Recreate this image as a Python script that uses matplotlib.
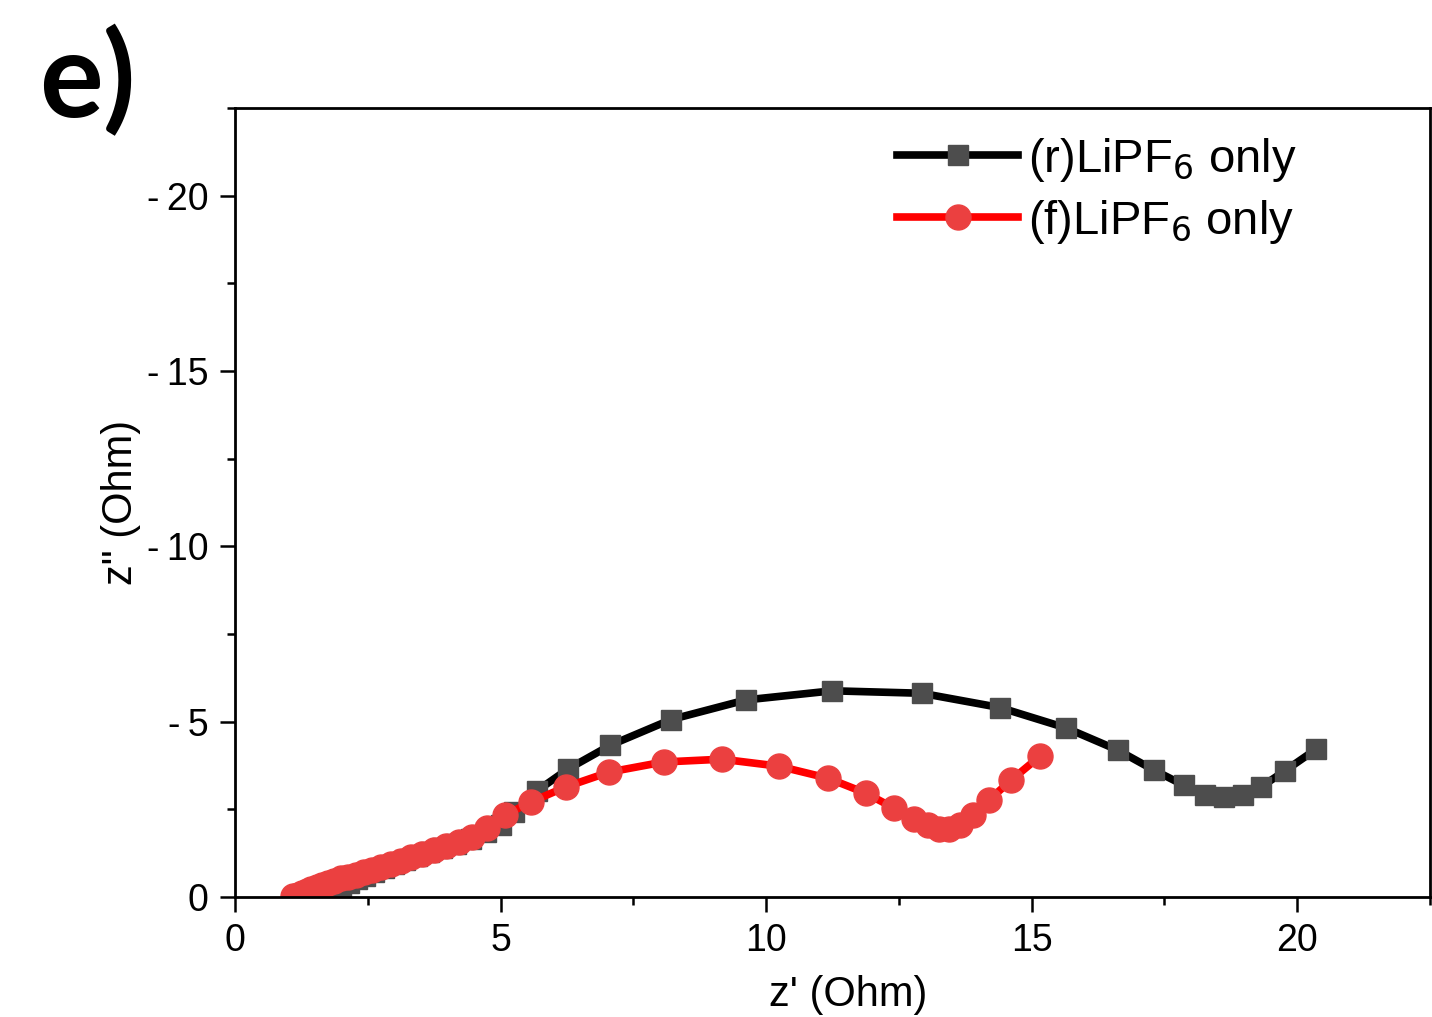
import numpy as np
import matplotlib.pyplot as plt
from matplotlib.ticker import FuncFormatter

plt.rcParams['font.family'] = ['Liberation Sans', 'DejaVu Sans']
plt.rcParams['axes.unicode_minus'] = False

# (r)LiPF6 only  -- Z' and Z'' (Ohm)
zr_re = [1.55, 1.65, 1.76, 1.88, 2.00, 2.14, 2.29, 2.45, 2.62, 2.80, 3.00, 3.20,
         3.42, 3.65, 3.90, 4.16, 4.44, 4.72, 5.00, 5.25, 5.68, 6.27, 7.07, 8.21,
         9.62, 11.25, 12.93, 14.41, 15.65, 16.62, 17.30, 17.86, 18.26, 18.63,
         18.97, 19.32, 19.77, 20.36]
zr_im = [-0.02, -0.08, -0.15, -0.23, -0.31, -0.40, -0.50, -0.60, -0.72, -0.83, -0.95, -1.06,
         -1.17, -1.28, -1.40, -1.52, -1.66, -1.85, -2.05, -2.42, -3.02, -3.65, -4.33, -5.06,
         -5.62, -5.88, -5.81, -5.40, -4.82, -4.19, -3.62, -3.19, -2.91, -2.84,
         -2.91, -3.14, -3.60, -4.22]

# (f)LiPF6 only
zf_re = [1.10, 1.18, 1.26, 1.35, 1.44, 1.54, 1.64, 1.75, 1.87, 2.00, 2.13, 2.27,
         2.42, 2.58, 2.75, 2.93, 3.12, 3.32, 3.53, 3.75, 3.98, 4.22, 4.47, 4.75,
         5.08, 5.57, 6.23, 7.04, 8.07, 9.17, 10.24, 11.16, 11.88, 12.40, 12.79,
         13.04, 13.26, 13.45, 13.66, 13.90, 14.20, 14.62, 15.16]
zf_im = [-0.02, -0.06, -0.11, -0.17, -0.23, -0.29, -0.35, -0.41, -0.47, -0.53, -0.58, -0.63,
         -0.70, -0.77, -0.86, -0.95, -1.04, -1.13, -1.24, -1.35, -1.45, -1.56, -1.72, -1.97,
         -2.33, -2.71, -3.14, -3.56, -3.85, -3.93, -3.73, -3.39, -2.96, -2.54, -2.22,
         -2.05, -1.94, -1.94, -2.05, -2.34, -2.77, -3.34, -4.02]

fig = plt.figure(figsize=(14.32, 10.17), dpi=100)
ax = fig.add_axes([0.1641, 0.1180, 0.8345, 0.7758])

ax.plot(zr_re, zr_im, '-s', color='black', lw=5.5, ms=15,
        mfc='#4d4d4d', mec='#4d4d4d', label='(r)LiPF$_6$ only')
ax.plot(zf_re, zf_im, '-o', color='#ff0000', lw=5.5, ms=18,
        mfc='#eb4040', mec='#eb4040', label='(f)LiPF$_6$ only')

ax.set_xlim(0, 22.42)
ax.set_ylim(0, -22.5)
ax.set_xticks([0, 5, 10, 15, 20])
ax.set_xticks([2.5, 7.5, 12.5, 17.5, 22.5], minor=True)
ax.set_yticks([0, -5, -10, -15, -20])
ax.set_yticks([-2.5, -7.5, -12.5, -17.5, -22.5], minor=True)

def ylab(v, pos):
    if v < 0:
        return '-\u2009%d' % (-v)
    return '%d' % v

ax.yaxis.set_major_formatter(FuncFormatter(ylab))

for s in ax.spines.values():
    s.set_linewidth(2)
ax.tick_params(which='major', length=11, width=1.8, labelsize=27, direction='out')
ax.tick_params(which='minor', length=5.5, width=1.8, direction='out')
ax.tick_params(axis='x', pad=8)
ax.tick_params(axis='y', pad=8)

ax.set_xlabel("z' (Ohm)", fontsize=30, labelpad=11)
ax.xaxis.label.set_x(0.513)
ax.set_ylabel('z" (Ohm)', fontsize=30, labelpad=4)

ax.legend(loc='upper left', bbox_to_anchor=(0.554, 0.965), frameon=False,
          borderpad=0, borderaxespad=0,
          fontsize=34, handlelength=2.57, numpoints=1, labelspacing=0.3,
          handletextpad=0.21)

fig.text(0.027, 0.885, 'e)', fontsize=86, fontweight='bold', family='Lato',
         va='baseline')

fig.savefig('out.png', dpi=100)
